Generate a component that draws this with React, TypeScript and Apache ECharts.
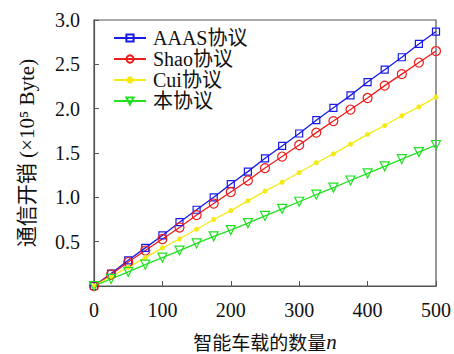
import React, { useEffect, useRef } from "react";
import * as echarts from "echarts";

const nValues = [0, 25, 50, 75, 100, 125, 150, 175, 200, 225, 250, 275, 300, 325, 350, 375, 400, 425, 450, 475, 500];
const aaas = [0, 0.14, 0.29, 0.43, 0.57, 0.72, 0.86, 1.0, 1.15, 1.29, 1.44, 1.58, 1.72, 1.87, 2.01, 2.15, 2.3, 2.44, 2.58, 2.73, 2.87];
const shao = [0, 0.13, 0.27, 0.4, 0.53, 0.66, 0.8, 0.93, 1.06, 1.19, 1.33, 1.46, 1.59, 1.73, 1.86, 1.99, 2.12, 2.26, 2.39, 2.52, 2.65];
const cui = [0, 0.11, 0.21, 0.32, 0.43, 0.53, 0.64, 0.75, 0.85, 0.96, 1.07, 1.17, 1.28, 1.39, 1.49, 1.6, 1.71, 1.81, 1.92, 2.02, 2.13];
const ours = [0, 0.08, 0.16, 0.24, 0.32, 0.4, 0.48, 0.56, 0.63, 0.71, 0.79, 0.87, 0.95, 1.03, 1.11, 1.19, 1.27, 1.35, 1.43, 1.51, 1.59];
const seriesNames = ["AAAS协议", "Shao协议", "Cui协议", "本协议"];

const FONT = "Liberation Serif, Noto Sans CJK SC, serif";
const SERIF = "Liberation Serif, serif";
const CJK = "Noto Sans CJK SC, sans-serif";

export default function App() {
  const ref = useRef<HTMLDivElement>(null);
  useEffect(() => {
    if (!ref.current) return;
    const chart = echarts.init(ref.current, null, { renderer: "svg" });
    const pair = (arr: number[]) => nValues.map((n, i) => [n, arr[i]]);
    const mk = (name: string, data: number[], color: string, symbol: string, size: number, filled: boolean) => ({
      name,
      type: "line",
      data: pair(data),
      symbol,
      symbolSize: size,
      showAllSymbol: true,
      lineStyle: { color, width: 1.3 },
      itemStyle: filled
        ? { color, borderColor: color, borderWidth: 0 }
        : { color: "rgba(255,255,255,0)", borderColor: color, borderWidth: 1.2 },
      emphasis: { disabled: true },
    });
    const legendText = { fontFamily: FONT, fontSize: 20, color: "#111", fontWeight: "normal" as const, padding: [0, 0, 0, 2] };
    chart.setOption({
      animation: false,
      backgroundColor: "#fff",
      textStyle: { fontFamily: FONT },
      grid: {
        left: 94,
        right: 18,
        top: 20,
        bottom: 68,
        outerBoundsMode: "none",
        containLabel: false,
        show: true,
        borderColor: "#555",
        borderWidth: 1.2,
        backgroundColor: "transparent",
      },
      legend: {
        left: 108,
        top: 23,
        orient: "vertical",
        itemWidth: 32,
        itemHeight: 9,
        itemGap: 1,
        data: seriesNames.map((name) => ({ name, textStyle: legendText })),
        textStyle: legendText,
      },
      xAxis: {
        type: "value",
        min: 0,
        max: 500,
        interval: 100,
        name: "{c|智能车载的数量}{i|n}",
        nameLocation: "middle",
        nameGap: 45,
        nameTextStyle: {
          rich: {
            c: { fontFamily: CJK, fontSize: 19, color: "#111" },
            i: { fontFamily: SERIF, fontStyle: "italic", fontSize: 21, color: "#111" },
          },
        },
        axisLine: { show: true, lineStyle: { color: "#555", width: 1.2 } },
        axisTick: { show: true, inside: true, length: 5, lineStyle: { color: "#555" } },
        axisLabel: { fontFamily: FONT, fontSize: 20, color: "#111", margin: 14 },
        splitLine: { show: false },
      },
      yAxis: {
        type: "value",
        min: 0,
        max: 3,
        interval: 0.5,
        name: "通信开销 (×10⁵ Byte)",
        nameLocation: "middle",
        nameRotate: 90,
        nameGap: 57,
        nameTextStyle: { fontFamily: FONT, fontSize: 21, color: "#111" },
        axisLine: { show: true, lineStyle: { color: "#555", width: 1.2 } },
        axisTick: { show: true, inside: true, length: 5, lineStyle: { color: "#555" } },
        axisLabel: {
          fontFamily: FONT,
          fontSize: 20,
          color: "#111",
          margin: 14,
          formatter: (v: number) => (v === 0 ? "" : v.toFixed(1)),
        },
        splitLine: { show: false },
      },
      series: [
        mk(seriesNames[0], aaas, "#1a1ae6", "rect", 7, false),
        mk(seriesNames[1], shao, "#ee1c1c", "circle", 9, false),
        mk(seriesNames[2], cui, "#f5ea14", "circle", 5, true),
        mk(seriesNames[3], ours, "#22e022", "path://M0,0 L10,0 L5,9 Z", 9, false),
      ],
    });
    return () => chart.dispose();
  }, []);
  return <div ref={ref} style={{ width: 454, height: 354, position: "absolute", left: 0, top: 0 }} />;
}
